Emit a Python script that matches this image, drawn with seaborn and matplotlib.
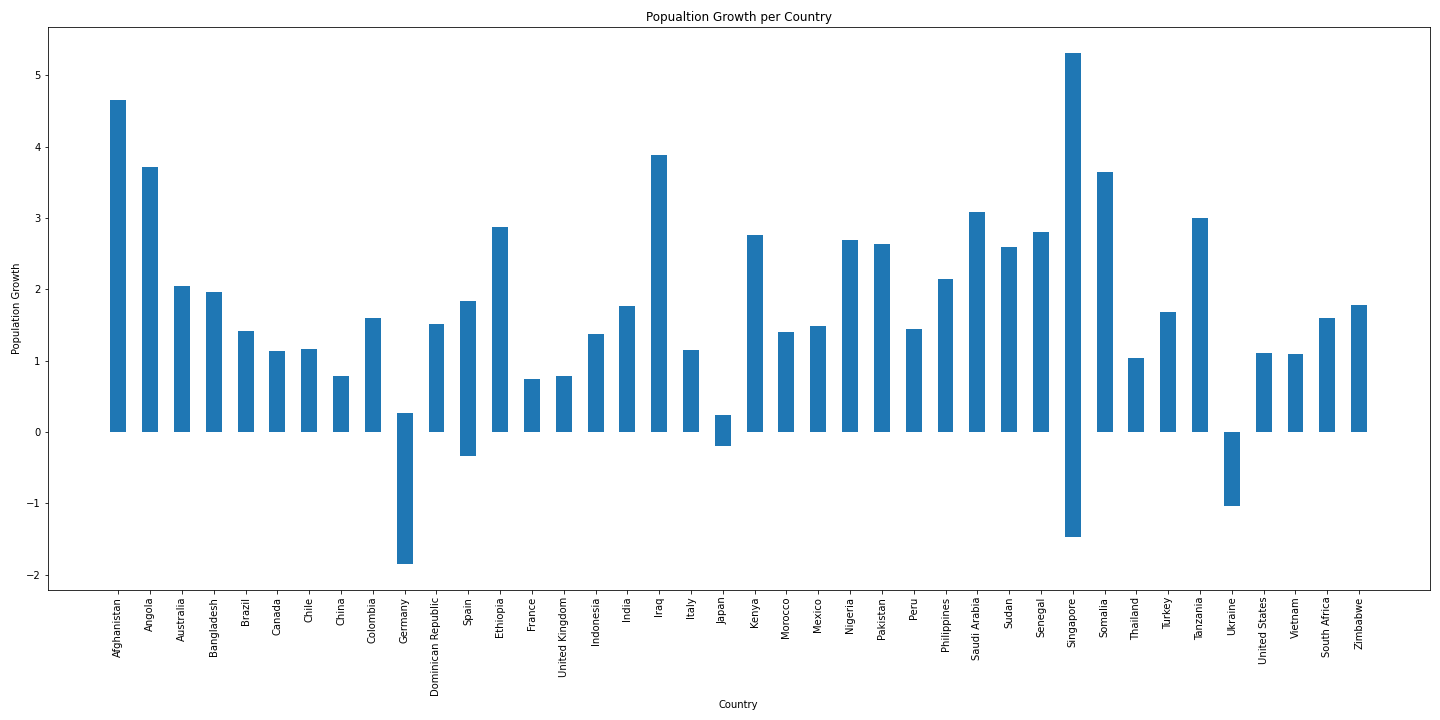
import pandas as pd
import matplotlib.pyplot as plt
import seaborn as sns

# Countries and the range of growth values drawn per country (overlapping bars)
countries = ['Afghanistan', 'Angola', 'Australia', 'Bangladesh', 'Brazil', 'Canada', 'Chile',
             'China', 'Colombia', 'Germany', 'Dominican Republic', 'Spain', 'Ethiopia', 'France',
             'United Kingdom', 'Indonesia', 'India', 'Iraq', 'Italy', 'Japan', 'Kenya', 'Morocco',
             'Mexico', 'Nigeria', 'Pakistan', 'Peru', 'Philippines', 'Saudi Arabia', 'Sudan',
             'Senegal', 'Singapore', 'Somalia', 'Thailand', 'Turkey', 'Tanzania', 'Ukraine',
             'United States', 'Vietnam', 'South Africa', 'Zimbabwe']
growth_high = [4.66, 3.71, 2.05, 1.96, 1.42, 1.14, 1.17, 0.79, 1.60, 0.27, 1.52, 1.84, 2.88, 0.75,
               0.79, 1.38, 1.77, 3.89, 1.15, 0.24, 2.77, 1.41, 1.49, 2.69, 2.64, 1.45, 2.15, 3.09,
               2.60, 2.80, 5.32, 3.65, 1.04, 1.69, 3.00, 0.0, 1.11, 1.10, 1.60, 1.78]
growth_low = [0, 0, 0, 0, 0, 0, 0, 0, 0, -1.85, 0, -0.33, 0, 0, 0, 0, 0, 0, 0, -0.20, 0, 0, 0, 0,
              0, 0, 0, 0, 0, 0, -1.47, 0, 0, 0, 0, -1.04, 0, 0, 0, 0]

df = pd.DataFrame({'Country': countries, 'high': growth_high, 'low': growth_low})

fig, ax = plt.subplots(figsize=(20, 10), dpi=72)
sns.barplot(data=df, x='Country', y='high', color='#1f77b4', saturation=1, width=0.5, ax=ax)
sns.barplot(data=df, x='Country', y='low', color='#1f77b4', saturation=1, width=0.5, ax=ax)

ax.set_xlim(-2.225, 41.225)
ax.set_ylim(-2.21, 5.68)
ax.set_title('Popualtion Growth per Country')
ax.set_xlabel('Country')
ax.set_ylabel('Population Growth')
ax.tick_params(axis='x', rotation=90)
fig.subplots_adjust(left=0.033, right=0.993, top=0.9625, bottom=0.181)
fig.savefig('out.png')
